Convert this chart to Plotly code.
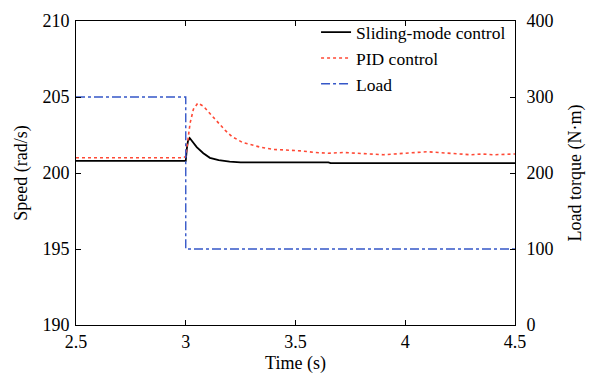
import plotly.graph_objects as go

# Data
t_smc = [2.5, 2.99, 3.0, 3.005, 3.01, 3.018, 3.03, 3.05, 3.08, 3.11, 3.15, 3.2, 3.25, 3.65, 3.66, 4.5]
speed_smc = [200.8, 200.8, 200.8, 201.6, 202.1, 202.3, 202.1, 201.7, 201.3, 201.0, 200.85, 200.75, 200.7, 200.7, 200.65, 200.65]

t_pid = [2.5, 2.99, 3.0, 3.01, 3.02, 3.035, 3.055, 3.08, 3.11, 3.14, 3.18, 3.21, 3.26, 3.34, 3.4, 3.47,
         3.53, 3.59, 3.65, 3.72, 3.8, 3.9, 3.95, 4.0, 4.05, 4.1, 4.15, 4.2, 4.3, 4.35, 4.4, 4.5]
speed_pid = [201.0, 201.0, 201.1, 202.2, 203.3, 204.2, 204.6, 204.4, 203.9, 203.4, 202.8, 202.4, 202.0, 201.7, 201.55, 201.5,
             201.45, 201.35, 201.3, 201.35, 201.3, 201.2, 201.25, 201.3, 201.35, 201.4, 201.35, 201.3, 201.2, 201.25, 201.2, 201.25]

t_load = [2.5, 3.0, 3.0, 4.5]
load = [300, 300, 100, 100]

x_ticks = [2.5, 3, 3.5, 4, 4.5]
y_ticks = [190, 195, 200, 205, 210]
y2_ticks = [0, 100, 200, 300, 400]

font = "Liberation Serif"

fig = go.Figure()
fig.add_trace(go.Scatter(x=t_smc, y=speed_smc, mode="lines", name="Sliding-mode control",
                         line=dict(color="black", width=1.8)))
fig.add_trace(go.Scatter(x=t_pid, y=speed_pid, mode="lines", name="PID control",
                         line=dict(color="#ff4a36", width=1.6, dash="dot")))
fig.add_trace(go.Scatter(x=t_load, y=load, mode="lines", name="Load", yaxis="y2",
                         line=dict(color="#3557c8", width=1.4, dash="dashdot")))

# page body has an 8px default margin, so margins are offset accordingly
fig.update_layout(
    width=597, height=377,
    margin=dict(l=68, r=90, t=6, b=60),
    paper_bgcolor="white", plot_bgcolor="white",
    font=dict(family=font, size=18, color="black"),
    showlegend=True,
    legend=dict(x=0.991, y=1.022, xanchor="right", yanchor="top", bgcolor="rgba(0,0,0,0)",
                font=dict(family=font, size=17.5), tracegroupgap=0, itemwidth=30),
    xaxis=dict(range=[2.5, 4.5], tickvals=x_ticks, ticktext=[str(v) for v in x_ticks],
               ticks="inside", ticklen=5, tickcolor="black", showline=True, linecolor="black",
               linewidth=1, mirror="ticks", showgrid=False, zeroline=False, automargin=False,
               ticklabelstandoff=0,
               title=dict(text="Time (s)", standoff=5, font=dict(family=font, size=18))),
    yaxis=dict(range=[190, 210], tickvals=y_ticks, ticks="inside", ticklen=5, tickcolor="black",
               showline=True, linecolor="black", linewidth=1, showgrid=False, zeroline=False,
               automargin=False, ticklabelstandoff=2,
               title=dict(text="Speed (rad/s)", standoff=10, font=dict(family=font, size=18))),
    yaxis2=dict(range=[0, 400], tickvals=y2_ticks, overlaying="y", side="right", ticks="inside",
                ticklen=5, tickcolor="black", showline=True, linecolor="black", linewidth=1,
                showgrid=False, zeroline=False, automargin=False, ticklabelstandoff=7,
                title=dict(text="Load torque (N·m)", standoff=15, font=dict(family=font, size=18))),
)

fig.write_html("out.html")
